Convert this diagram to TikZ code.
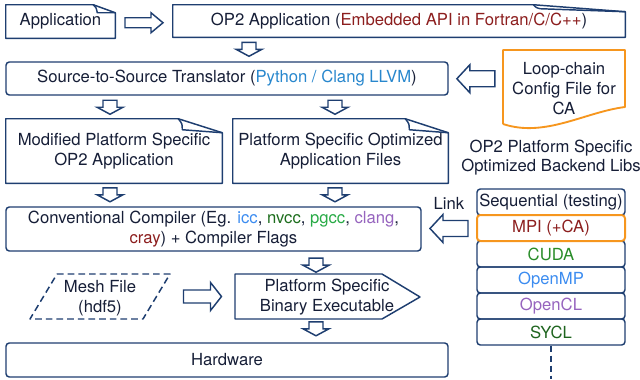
\documentclass[tikz,border=0pt]{standalone}
\usepackage{fontspec}
\setmainfont{TeX Gyre Heros}
\usetikzlibrary{calc}
\definecolor{navy}{RGB}{30,62,112}
\definecolor{txt}{RGB}{22,30,55}
\definecolor{orng}{RGB}{246,150,30}
\definecolor{dred}{RGB}{140,30,30}
\definecolor{pyblue}{RGB}{40,135,205}
\definecolor{lblue}{RGB}{60,140,240}
\definecolor{dgreen}{RGB}{30,110,30}
\definecolor{bgreen}{RGB}{40,170,70}
\definecolor{purp}{RGB}{150,100,190}
\definecolor{cgreen}{RGB}{40,140,40}
\definecolor{sgreen}{RGB}{30,100,30}
\begin{document}
\begin{tikzpicture}[x=0.75pt,y=-0.75pt,
  font=\fontsize{12.5}{15}\selectfont, text=txt,
  line/.style={draw=navy, line width=1.1pt, line join=round},
  rbox/.style={line, rounded corners=2.5pt, inner sep=0pt, align=center},
  plain/.style={inner sep=0pt, align=center},
  barrow/.style={draw=navy, line width=1.1pt, fill=white, line join=miter},
  libbox/.style={rbox, minimum width=111pt, minimum height=19.5pt},
  darr/.pic={\draw[barrow] (-7,-7) -- (7,-7) -- (7,0) -- (13,0) -- (0,7) -- (-13,0) -- (-7,0) -- cycle;},
  rarrsmall/.pic={\draw[barrow] (-19,-5) -- (7,-5) -- (7,-10) -- (19,0) -- (7,10) -- (7,5) -- (-19,5) -- cycle;},
  rarrbig/.pic={\draw[barrow] (-19,-6.5) -- (8,-6.5) -- (8,-14) -- (19,0) -- (8,14) -- (8,6.5) -- (-19,6.5) -- cycle;},
  larr/.pic={\draw[barrow] (19,-8) -- (-6,-8) -- (-6,-14) -- (-19,0) -- (-6,14) -- (-6,8) -- (19,8) -- cycle;}
]
\useasboundingbox (0,0) rectangle (640,379);

% Application (document with folded corner)
\node[plain, minimum width=81.75pt, minimum height=24.75pt] (app) at (60.5,21.5) {Application};
\draw[line] (app.south west) -- (app.north west) -- ($(app.north east)+(-22,0)$) -- ($(app.north east)+(0,8)$) -- (app.south east) -- cycle;
\draw[line] ($(app.north east)+(-22,0)$) .. controls ($(app.north east)+(-19,3)$) .. ($(app.north east)+(-18,8)$) -- ($(app.north east)+(0,8)$);

% OP2 Application
\node[plain, minimum width=339pt, minimum height=24pt] (op2) at (399,21) {OP2 Application (\textcolor{dred}{Embedded API in Fortran/C/C++})};
\draw[line] (op2.south west) -- (op2.north west) -- ($(op2.north east)+(-92,0)$) -- ($(op2.north east)+(0,7)$) -- (op2.south east) -- cycle;
\draw[line] ($(op2.north east)+(-92,0)$) .. controls ($(op2.north east)+(-89,3)$) .. ($(op2.north east)+(-85,4)$) -- ($(op2.north east)+(0,7)$);

% Translator
\node[rbox, minimum width=331.5pt, minimum height=24.75pt] (trans) at (227,78.5) {Source-to-Source Translator (\textcolor{pyblue}{Python / Clang LLVM})};

% Loop-chain config
\node[plain] (loop) at (564,89) {Loop-chain\\Config File for\\CA};
\draw[draw=orng, line width=1.4pt, line join=round] (503,124) -- (503,50) -- (625,50) -- (625,107) .. controls (585,112) and (545,138) .. (503,124);

% Modified platform specific
\node[plain, minimum width=162pt, minimum height=48pt] (mod) at (114,151) {Modified Platform Specific\\OP2 Application};
\draw[line] (mod.south west) -- (mod.north west) -- ($(mod.north east)+(-44,0)$) -- ($(mod.north east)+(0,14)$) -- (mod.south east) -- cycle;
\draw[line] ($(mod.north east)+(-44,0)$) .. controls ($(mod.north east)+(-40,5)$) .. ($(mod.north east)+(-40,11)$) -- ($(mod.north east)+(0,14)$);

% Platform specific optimized
\node[plain, minimum width=161.25pt, minimum height=48pt] (opt) at (340.5,151) {Platform Specific Optimized\\Application Files};
\draw[line] (opt.south west) -- (opt.north west) -- ($(opt.north east)+(-43,0)$) -- ($(opt.north east)+(0,14)$) -- (opt.south east) -- cycle;
\draw[line] ($(opt.north east)+(-43,0)$) .. controls ($(opt.north east)+(-39,5)$) .. ($(opt.north east)+(-39,11)$) -- ($(opt.north east)+(0,14)$);

% Compiler
\node[rbox, minimum width=311.25pt, minimum height=33pt] (comp) at (213.5,229) {Conventional Compiler (Eg. \textcolor{lblue}{icc}, \textcolor{dgreen}{nvcc}, \textcolor{bgreen}{pgcc}, \textcolor{purp}{clang},\\[0.6pt]\textcolor{dred}{cray}) + Compiler Flags};

% Backend libs
\node[plain, font=\fontsize{12.5}{14.25}\selectfont] (hdr) at (551,157.5) {OP2 Platform Specific\\Optimized Backend Libs};
\node[libbox] (seq) at (551,202) {Sequential (testing)};
\node[libbox, text=cgreen] (cuda) at (551,254) {CUDA};
\node[libbox, text=lblue] (omp) at (551,280) {OpenMP};
\node[libbox, text=purp] (ocl) at (551,306) {OpenCL};
\node[libbox, text=sgreen] (sycl) at (551,332) {SYCL};
\node[libbox, draw=orng, line width=1.5pt, text=dred] (mpi) at (551,228) {MPI (+CA)};
\coordinate (libend) at (551,379);
\draw[line, dash pattern=on 4.5pt off 3pt] (sycl.south) -- (libend);
\node[plain] (link) at (449,203) {Link};

% Mesh file
\node[plain] (mesh) at (100,298) {Mesh File\\(hdf5)};
\draw[line, dash pattern=on 5pt off 3pt] (57,274) -- (170,274) -- (143,319) -- (30,319) -- cycle;

% Binary executable
\node[plain] (bin) at (327,297) {Platform Specific\\Binary Executable};
\draw[line] (235,274) -- (382,274) -- (420,297) -- (382,319) -- (235,319) -- cycle;

% Hardware
\node[rbox, minimum width=331.5pt, minimum height=25.5pt] (hw) at (227,360) {Hardware};

% Block arrows
\pic at ($(app.east)!0.5!(op2.west)+(0,1.5)$) {rarrsmall};
\pic at ($(op2.south)!0.5!(trans.north)+(-64,0)$) {darr};
\pic at ($(trans.south -| 110,0)!0.5!(mod.north -| 110,0)$) {darr};
\pic at ($(trans.south -| 335,0)!0.5!(opt.north -| 335,0)$) {darr};
\pic at ($(mod.south -| 110,0)!0.5!(comp.north -| 110,0)$) {darr};
\pic at ($(opt.south -| 335,0)!0.5!(comp.north -| 335,0)$) {darr};
\pic at ($(comp.south -| 316,0)!0.5!(bin.north -| 316,0)$) {darr};
\pic at ($(bin.south -| 316,0)!0.5!(hw.north -| 316,0)$) {darr};
\pic at ($(trans.east)!0.5!(503,79)$) {larr};
\pic at ($(comp.east)!0.5!(seq.west |- mpi.west)$) {larr};
\pic at ($(mesh.east -| 170,0)!0.5!(bin.west -| 235,0)+(0,-1)$) {rarrbig};
\end{tikzpicture}
\end{document}
